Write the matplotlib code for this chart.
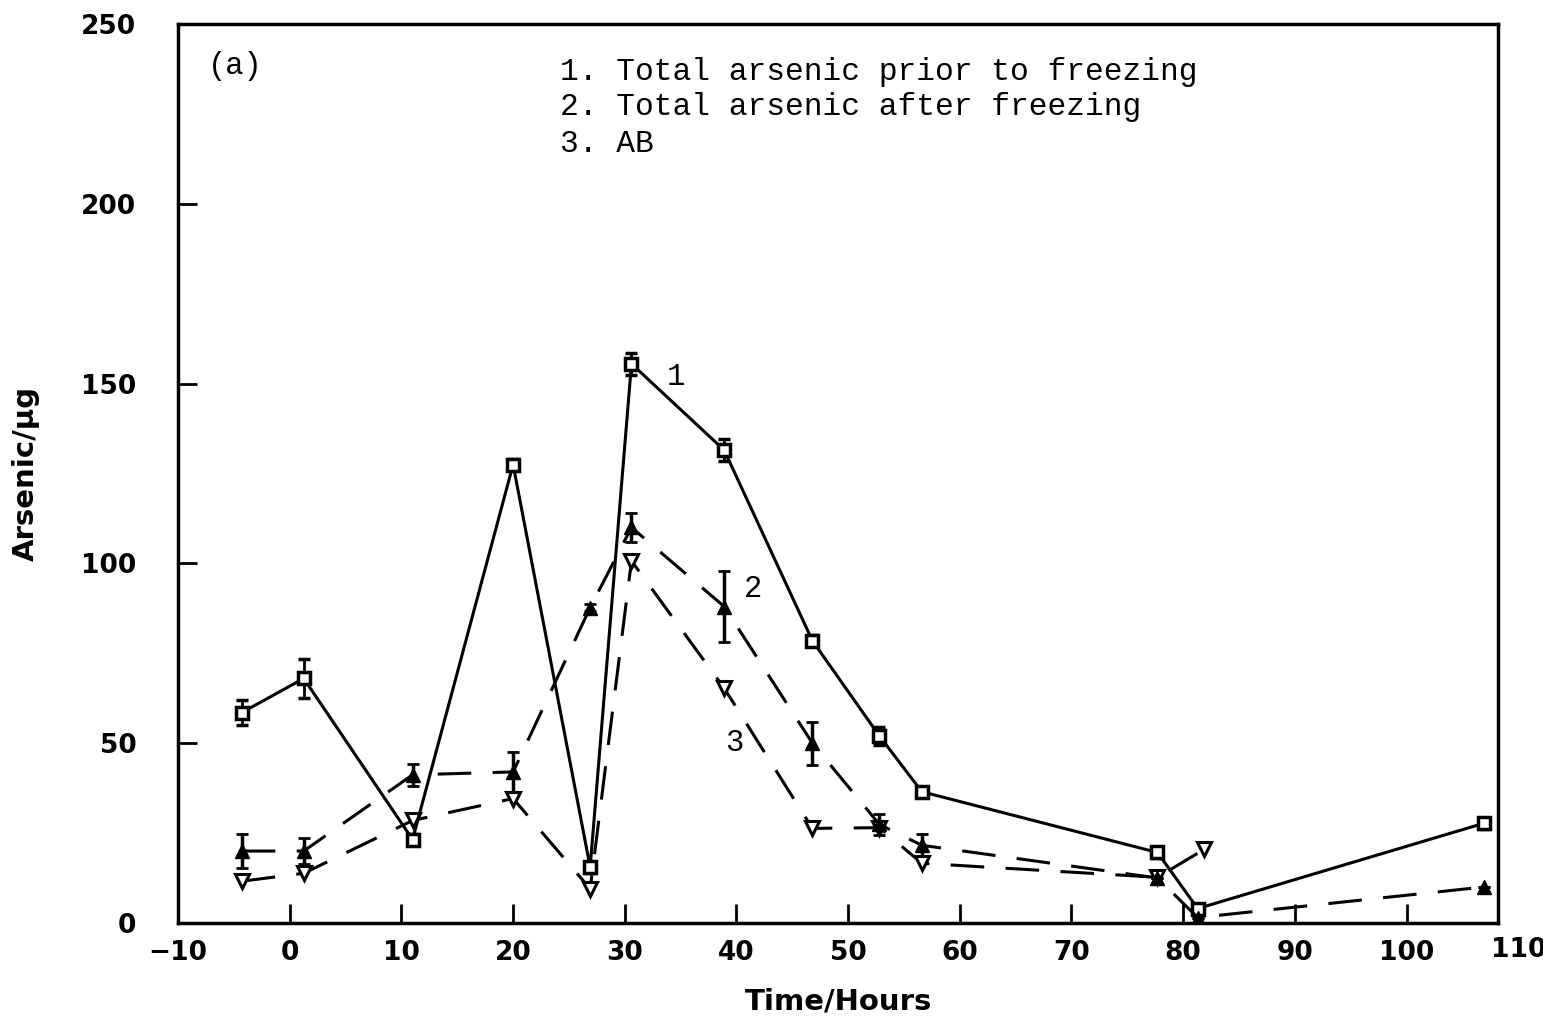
import matplotlib.pyplot as plt
import numpy as np

# Tempo (horas)
tempo = [-4.3, 1.25, 11.0, 20.0, 26.9, 30.6, 38.9, 46.8, 52.8, 56.6, 77.7, 81.3, 106.9]

# 1. Total arsenic prior to freezing
total_antes = [58.5, 68.0, 23.2, 127.5, 15.5, 155.5, 131.5, 78.5, 52.0, 36.5, 19.6, 4.0, 27.7]
erro_antes = [3.5, 5.5, 1.5, 1.5, 1.5, 3.0, 3.0, 1.5, 2.5, 1.0, 1.5, 1.0, 1.5]

# 2. Total arsenic after freezing
total_depois = [20.0, 20.0, 41.2, 42.0, 87.7, 110.0, 88.0, 50.0, 27.4, 21.6, 12.5, 1.5, 10.0]
erro_depois = [4.7, 3.5, 3.0, 5.5, 1.0, 4.0, 10.0, 6.0, 3.0, 3.0, 0.0, 0.0, 0.0]

# 3. AB
tempo_ab = [-4.3, 1.25, 11.0, 20.0, 26.9, 30.6, 38.9, 46.8, 52.8, 56.6, 77.7, 81.9]
ab = [11.6, 13.8, 28.5, 34.6, 9.5, 100.7, 65.3, 26.3, 26.5, 16.6, 12.7, 20.5]

mono = 'Liberation Mono'

fig = plt.figure(figsize=(15.43, 10.23), dpi=100)
ax = fig.add_axes([0.1154, 0.0978, 0.8555, 0.8787])

ax.errorbar(tempo, total_antes, yerr=erro_antes, color='black', lw=2.2,
            marker='s', ms=9, mfc='white', mec='black', mew=2.5,
            capsize=4, elinewidth=2, capthick=2)
ax.errorbar(tempo, total_depois, yerr=erro_depois, color='black', lw=2.2,
            dashes=(11, 7), marker='^', ms=10, mfc='black', mec='black',
            capsize=4, elinewidth=2.5, capthick=2)
ax.plot(tempo_ab, ab, color='black', lw=2.2, dashes=(11, 7),
        marker='v', ms=10, mfc='white', mec='black', mew=2.2)

ax.set_xticks(np.arange(-10, 101, 10))
ax.set_yticks(np.arange(0, 251, 50))
ax.set_xlim(-10, 108.2)
ax.set_ylim(0, 250)
ax.tick_params(direction='in', length=14, width=2, labelsize=19)
ax.tick_params(axis='y', pad=30)
ax.tick_params(axis='x', pad=12)
for lab in ax.get_xticklabels() + ax.get_yticklabels():
    lab.set_fontweight('bold')
for s in ax.spines.values():
    s.set_linewidth(2.5)

# rótulo 110 cortado pela borda da figura, como no original
ax.text(110, -0.03, '110', fontsize=19, fontweight='bold', ha='center', va='center',
        transform=ax.get_xaxis_transform(), clip_on=False)

ax.set_xlabel('Time/Hours', fontsize=21, fontweight='bold', labelpad=16)
ax.set_ylabel('Arsenic/µg', fontsize=21, fontweight='bold', labelpad=30)

ax.text(-7.3, 238.4, '(a)', fontsize=22, family=mono, va='center')
ax.text(24.2, 236.7, '1. Total arsenic prior to freezing', fontsize=22.5, family=mono, va='center')
ax.text(24.2, 226.8, '2. Total arsenic after freezing', fontsize=22.5, family=mono, va='center')
ax.text(24.2, 216.5, '3. AB', fontsize=22.5, family=mono, va='center')

ax.text(34.6, 151.8, '1', fontsize=22, family=mono, va='center', ha='center')
ax.text(41.5, 93, '2', fontsize=22, family=mono, va='center', ha='center')
ax.text(39.8, 50, '3', fontsize=22, family=mono, va='center', ha='center')

plt.savefig('out.png', dpi=100)
